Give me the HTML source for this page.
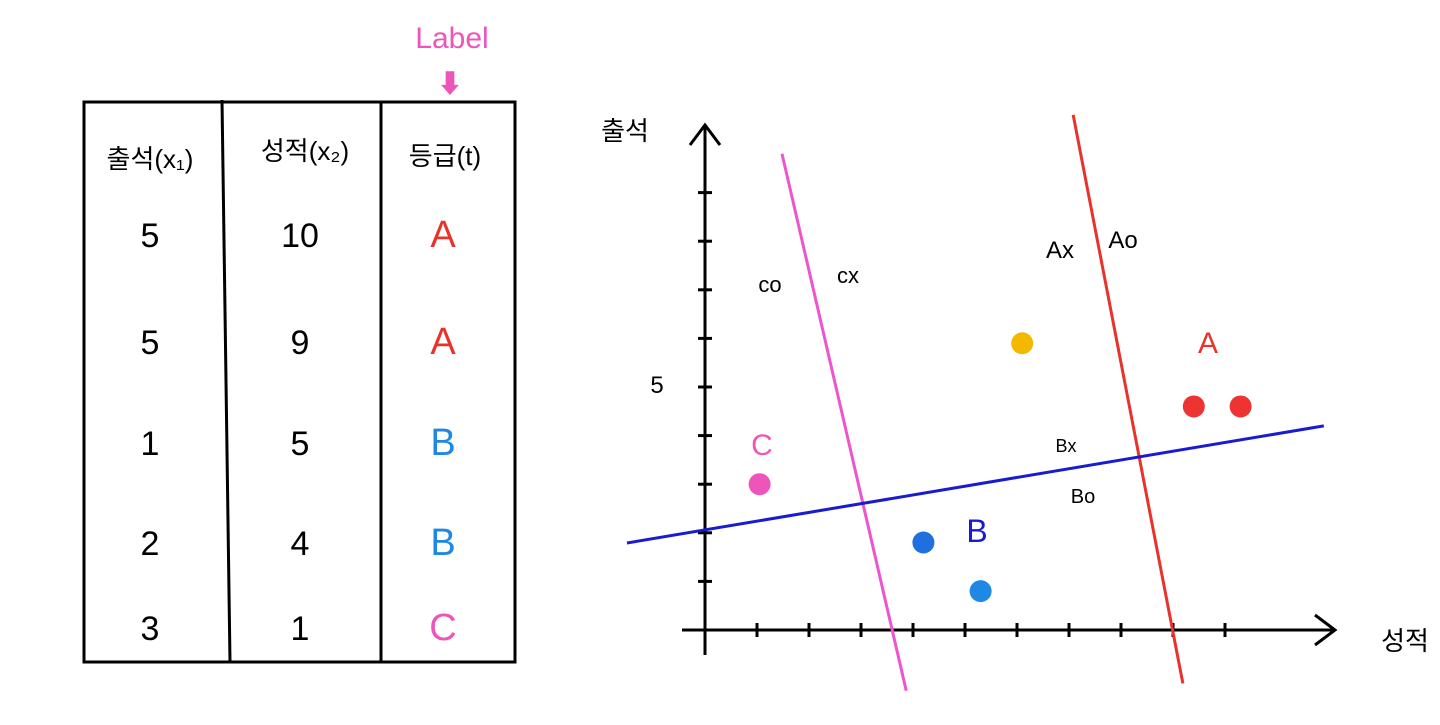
<!DOCTYPE html>
<html><head><meta charset="utf-8"><style>
html,body{margin:0;padding:0;background:#fff;width:1440px;height:725px;overflow:hidden}
svg text{font-family:"Liberation Sans","Noto Sans CJK KR",sans-serif}
</style></head><body>
<svg id="s" width="1440" height="725" xmlns="http://www.w3.org/2000/svg">
<g stroke="#000" stroke-width="3" fill="none">
<rect x="84" y="102" width="431" height="560"/>
<line x1="222" y1="100" x2="230" y2="662"/>
<line x1="381" y1="102" x2="381" y2="662"/>
</g>
<g font-size="30" text-anchor="middle">
<text x="150" y="168" font-size="26">출석(x₁)</text>
<text x="305" y="160" font-size="26">성적(x₂)</text>
<text x="445" y="165" font-size="26">등급(t)</text>
<text x="452" y="48" font-size="30" fill="#ee55bb">Label</text>
<text x="450" y="93" font-size="26" fill="#ee55bb">⬇</text>
</g>
<g id="tbl"></g>
<g id="chart"></g>
</svg>
<script>
const attendance=[5,5,1,2,3];
const scores=[10,9,5,4,1];
const grades=['A','A','B','B','C'];
const gradeColor={A:'#e8332c',B:'#1f88e5',C:'#ee55bb'};
const ptX=[9.4,10.3,6.1,1.05,4.2,5.3];
const ptY=[4.6,4.6,5.9,3.0,1.8,0.8];
const ptColor=['#ee3333','#ee3333','#f5b800','#ee55bb','#1f6fe0','#1f88e5'];
const lineX1=[1.48,7.08,-1.5];
const lineY1=[9.8,10.6,1.79];
const lineX2=[3.87,9.19,11.9];
const lineY2=[-1.25,-1.1,4.2];
const lineColor=['#ee55cc','#e8332c','#1a1ad0'];
const lineNames=['c-boundary','a-boundary','b-boundary'];
const xTicks=[1,2,3,4,5,6,7,8,9,10];
const yTicks=[1,2,3,4,5,6,7,8,9];
const NS='http://www.w3.org/2000/svg';
const X=v=>705+v*52, Y=v=>630-v*48.6;
function mk(p,t,a){const e=document.createElementNS(NS,t);for(const k in a)e.setAttribute(k,a[k]);p.appendChild(e);return e;}
const tbl=document.getElementById('tbl');
const rowY=[247,354,455,555,640];
for(let i=0;i<5;i++){
 let t=mk(tbl,'text',{x:150,y:rowY[i],'font-size':34,'text-anchor':'middle'});t.textContent=attendance[i];
 
 
 t=mk(tbl,'text',{x:300,y:rowY[i],'font-size':34,'text-anchor':'middle'});t.textContent=scores[i];
 
 
 t=mk(tbl,'text',{x:443,y:rowY[i],'font-size':38,'text-anchor':'middle',fill:gradeColor[grades[i]]});t.textContent=grades[i];
 
 
}
const c=document.getElementById('chart');
let ax=mk(c,'path',{d:'M705 655 V125 M690 145 L705 125 L720 145 M682 630 H1335 M1315 615 L1335 630 L1315 645',stroke:'#000','stroke-width':3,fill:'none'});


xTicks.forEach(v=>{const e=mk(c,'line',{x1:X(v),x2:X(v),y1:623,y2:637,stroke:'#000','stroke-width':3});
 
 });
yTicks.forEach(v=>{const e=mk(c,'line',{x1:698,x2:712,y1:Y(v),y2:Y(v),stroke:'#000','stroke-width':3});
 
 });
for(let i=0;i<3;i++){const e=mk(c,'line',{x1:X(lineX1[i]),y1:Y(lineY1[i]),x2:X(lineX2[i]),y2:Y(lineY2[i]),stroke:lineColor[i],'stroke-width':3});
 
 }
for(let i=0;i<ptX.length;i++){const e=mk(c,'circle',{cx:X(ptX[i]),cy:Y(ptY[i]),r:11,fill:ptColor[i]});
 
 }
const labs=[['출석',625,140,26,'#000','y-axis-title'],['성적',1405,650,26,'#000','x-axis-title'],['5',657,393,24,'#000','y-tick-label-5'],
['co',770,292,22,'#000','label-co'],['cx',848,283,22,'#000','label-cx'],['Ax',1060,258,24,'#000','label-ax'],['Ao',1123,248,24,'#000','label-ao'],
['A',1208,353,30,'#e8332c','class-a-label'],['Bx',1066,452,18,'#000','label-bx'],['Bo',1083,503,20,'#000','label-bo'],
['B',977,542,32,'#1a1ad0','class-b-label'],['C',762,455,30,'#ee55bb','class-c-label']];
labs.forEach(l=>{const e=mk(c,'text',{x:l[1],y:l[2],'font-size':l[3],fill:l[4],'text-anchor':'middle'});e.textContent=l[0];
 
 });
</script>
</body></html>
